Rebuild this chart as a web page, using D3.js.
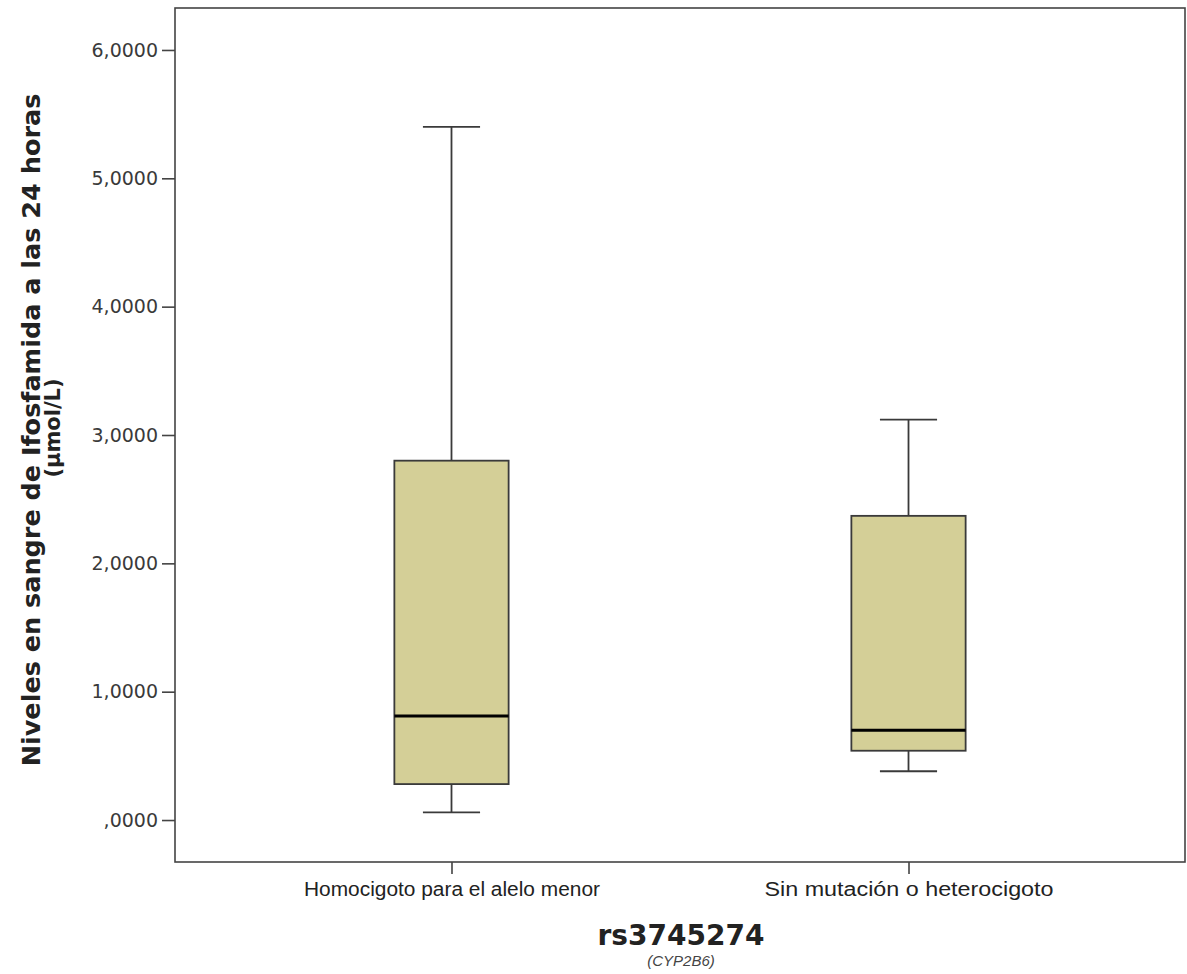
<!DOCTYPE html>
<html>
<head>
<meta charset="utf-8">
<script src="https://cdn.jsdelivr.net/npm/d3@7"></script>
<style>
  body { margin: 0; background: #fff; }
  svg { display: block; }
</style>
</head>
<body>
<div id="chart"></div>
<script>
// data
const categories = ['Homocigoto para el alelo menor', 'Sin mutación o heterocigoto'];
const whiskerLow  = [0.06, 0.38];
const q1          = [0.28, 0.54];
const medians     = [0.81, 0.70];
const q3          = [2.80, 2.37];
const whiskerHigh = [5.40, 3.12];
const yTicks = [0, 1, 2, 3, 4, 5, 6];

const W = 1187, H = 974;
const L = 175, R = 1185, T = 8, B = 862;

const svg = d3.select('#chart').append('svg')
  .attr('width', W).attr('height', H);

const y = d3.scaleLinear().domain([-0.327, 6.327]).range([B, T]);
const x = d3.scalePoint().domain(categories).range([L, R]).padding(0.605);
const boxW = x.step() * 0.25;

const fmt = v => (v === 0 ? '' : String(v)) + ',0000';

// frame
svg.append('rect')
  .attr('x', L).attr('y', T).attr('width', R - L).attr('height', B - T)
  .attr('fill', 'none').attr('stroke', '#444').attr('stroke-width', 1.6);

const yAxis = svg.append('g')
  .attr('transform', `translate(${L},0)`)
  .call(d3.axisLeft(y).tickValues(yTicks).tickFormat(fmt).tickSize(13).tickPadding(4));
yAxis.select('.domain').remove();
yAxis.selectAll('line').attr('stroke', '#444').attr('stroke-width', 1.6);
yAxis.selectAll('text').attr('fill', '#3a3a3a')
  .style('font-family', '"DejaVu Sans", Verdana, sans-serif').style('font-size', '19px');

// tick label widths as measured on the picture
const labelW = [296, 289];
const xAxis = svg.append('g')
  .attr('transform', `translate(0,${B})`)
  .call(d3.axisBottom(x).tickSize(12).tickPadding(8));
xAxis.select('.domain').remove();
xAxis.selectAll('line').attr('stroke', '#444').attr('stroke-width', 1.6);
xAxis.selectAll('text').attr('fill', '#222')
  .attr('textLength', (d, i) => labelW[i])
  .attr('lengthAdjust', 'spacingAndGlyphs')
  .style('font-family', '"Liberation Sans", Arial, sans-serif')
  .style('font-size', '20px');

// boxes
const rows = categories.map((c, i) => ({
  c, lo: whiskerLow[i], q1: q1[i], med: medians[i], q3: q3[i], hi: whiskerHigh[i]
}));

const g = svg.selectAll('.box').data(rows).enter().append('g').attr('class', 'box');
const stroke = '#3a3a3a';

g.append('line')
  .attr('x1', d => x(d.c)).attr('x2', d => x(d.c))
  .attr('y1', d => y(d.q3)).attr('y2', d => y(d.hi))
  .attr('stroke', stroke).attr('stroke-width', 1.8);
g.append('line')
  .attr('x1', d => x(d.c)).attr('x2', d => x(d.c))
  .attr('y1', d => y(d.q1)).attr('y2', d => y(d.lo))
  .attr('stroke', stroke).attr('stroke-width', 1.8);
g.append('line')
  .attr('x1', d => x(d.c) - boxW / 4).attr('x2', d => x(d.c) + boxW / 4)
  .attr('y1', d => y(d.hi)).attr('y2', d => y(d.hi))
  .attr('stroke', stroke).attr('stroke-width', 1.8);
g.append('line')
  .attr('x1', d => x(d.c) - boxW / 4).attr('x2', d => x(d.c) + boxW / 4)
  .attr('y1', d => y(d.lo)).attr('y2', d => y(d.lo))
  .attr('stroke', stroke).attr('stroke-width', 1.8);
g.append('rect')
  .attr('x', d => x(d.c) - boxW / 2).attr('width', boxW)
  .attr('y', d => y(d.q3)).attr('height', d => y(d.q1) - y(d.q3))
  .attr('fill', '#d4cf97').attr('stroke', stroke).attr('stroke-width', 1.8);
g.append('line')
  .attr('x1', d => x(d.c) - boxW / 2).attr('x2', d => x(d.c) + boxW / 2)
  .attr('y1', d => y(d.med)).attr('y2', d => y(d.med))
  .attr('stroke', '#000').attr('stroke-width', 3);

// axis titles
svg.append('text')
  .attr('transform', 'translate(40,430) rotate(-90)')
  .attr('text-anchor', 'middle')
  .attr('fill', '#222')
  .style('font-family', '"DejaVu Sans", Verdana, sans-serif')
  .style('font-weight', 'bold').style('font-size', '25.5px')
  .text('Niveles en sangre de Ifosfamida a las 24 horas');
svg.append('text')
  .attr('transform', 'translate(60,428) rotate(-90)')
  .attr('text-anchor', 'middle')
  .attr('fill', '#222')
  .style('font-family', '"DejaVu Sans", Verdana, sans-serif')
  .style('font-weight', 'bold').style('font-size', '21px')
  .text('(µmol/L)');

svg.append('text')
  .attr('x', 681).attr('y', 945)
  .attr('text-anchor', 'middle').attr('fill', '#222')
  .style('font-family', '"DejaVu Sans", Verdana, sans-serif')
  .style('font-weight', 'bold').style('font-size', '28px')
  .text('rs3745274');
svg.append('text')
  .attr('x', 681).attr('y', 966)
  .attr('text-anchor', 'middle').attr('fill', '#444')
  .style('font-family', '"Liberation Sans", Arial, sans-serif')
  .style('font-style', 'italic').style('font-size', '15px')
  .text('(CYP2B6)');
</script>
</body>
</html>
